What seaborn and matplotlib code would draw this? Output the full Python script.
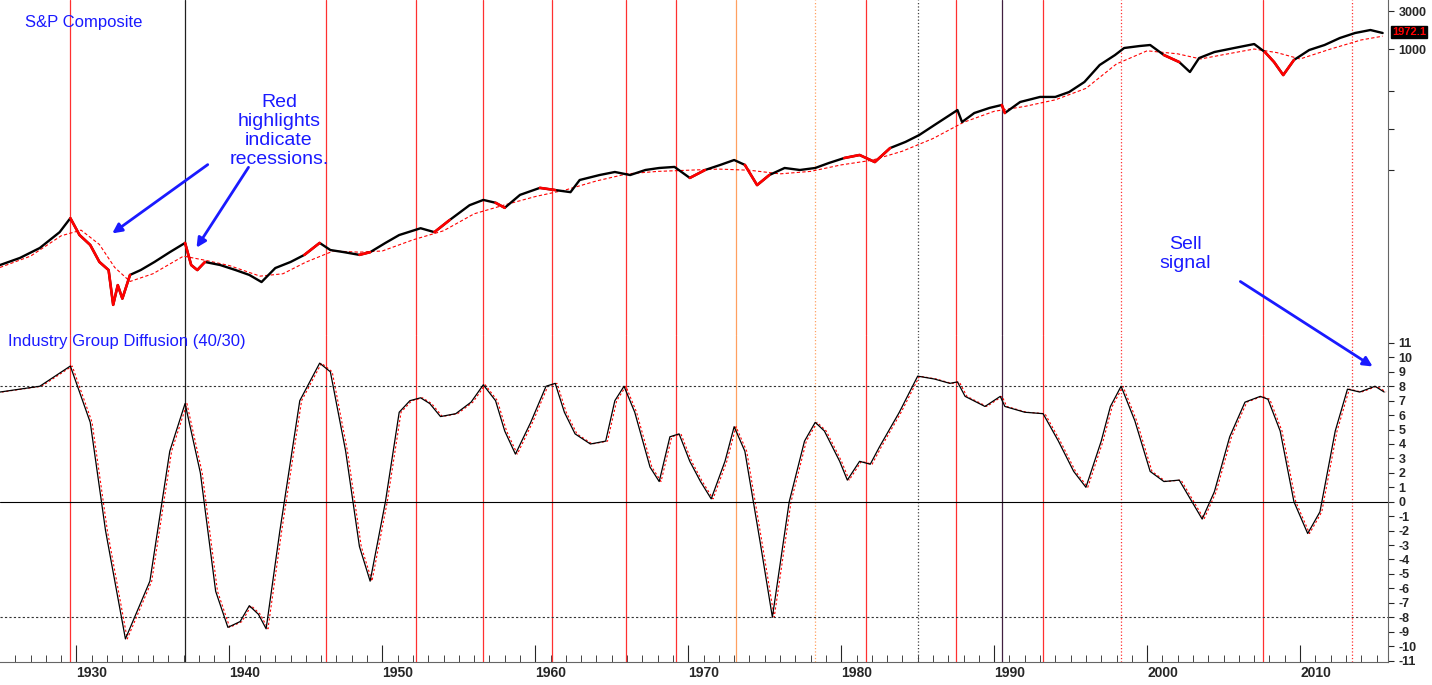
import matplotlib
matplotlib.use("Agg")
import matplotlib.pyplot as plt
import numpy as np
import seaborn as sns

sns.set_style("white")
plt.rcParams["font.family"] = ["Liberation Sans", "DejaVu Sans"]

# S&P Composite (year, value)
spx_year = [1925.0, 1926.3, 1927.6, 1928.9, 1929.6, 1930.2, 1930.9, 1931.5, 1932.1, 1932.4,
            1932.7, 1933.0, 1933.5, 1934.2, 1935.1, 1936.1, 1937.1, 1937.5, 1937.9, 1938.4,
            1939.4, 1940.4, 1941.3, 1942.1, 1943.0, 1944.0, 1944.9, 1945.9, 1946.6, 1947.5,
            1948.5, 1949.2, 1950.2, 1951.1, 1952.5, 1953.4, 1954.4, 1955.7, 1956.6, 1957.4,
            1958.0, 1959.0, 1960.3, 1961.3, 1962.3, 1962.9, 1964.2, 1965.2, 1966.2, 1967.2,
            1968.1, 1969.1, 1970.1, 1971.1, 1972.1, 1973.0, 1973.7, 1974.5, 1975.3, 1976.3,
            1977.3, 1978.3, 1979.2, 1980.2, 1981.2, 1982.2, 1983.2, 1984.2, 1985.1, 1986.1,
            1987.1, 1987.6, 1987.9, 1988.7, 1989.7, 1990.5, 1990.7, 1991.7, 1993.0, 1994.0,
            1994.9, 1995.9, 1996.9, 1997.9, 1998.5, 1999.5, 2000.2, 2001.1, 2002.1, 2002.8,
            2003.4, 2004.4, 2005.7, 2007.0, 2007.7, 2008.3, 2008.9, 2009.6, 2010.6, 2011.6,
            2012.6, 2013.6, 2014.6, 2015.4]
spx_value = [1.93, 2.37, 3.16, 5.0, 7.5, 4.6, 3.45, 2.11, 1.67, 0.61,
             1.08, 0.73, 1.45, 1.67, 2.11, 2.8, 3.66, 1.93, 1.67, 2.11,
             1.93, 1.67, 1.45, 1.18, 1.77, 2.11, 2.59, 3.66, 2.98, 2.8,
             2.59, 2.8, 3.66, 4.6, 5.6, 5.0, 7.1, 10.9, 12.7, 11.7,
             10.1, 14.7, 18.0, 16.9, 15.9, 22.6, 26.1, 28.5, 26.1, 30.2,
             32.0, 33.0, 24.0, 30.2, 35.0, 40.3, 35.0, 19.5, 26.1, 32.0,
             30.2, 32.0, 37.0, 42.7, 46.6, 38.0, 57.0, 68.0, 83.0, 111,
             148, 171, 121, 157, 182, 198, 157, 216, 250, 250,
             288, 385, 630, 840, 1030, 1090, 1123, 840, 686, 514,
             770, 917, 1030, 1155, 917, 686, 471, 728, 972, 1123,
             1375, 1590, 1733, 1590]

ma_year = [1925, 1927, 1929, 1930.3, 1931.5, 1932.5, 1933.5, 1935, 1937, 1938.5, 1940, 1942,
           1943.5, 1945, 1946.8, 1948.5, 1950, 1952, 1954, 1956, 1958, 1960, 1962, 1964, 1966,
           1968, 1970, 1972, 1974, 1976, 1978, 1980, 1982, 1984, 1986, 1988, 1990, 1992, 1994,
           1996, 1998, 2000, 2002, 2003.5, 2005, 2007, 2008.5, 2010, 2012, 2014, 2015.4]
ma_value = [1.8, 2.5, 4.5, 5.3, 3.5, 1.8, 1.2, 1.5, 2.5, 2.2, 1.9, 1.4,
            1.5, 2.1, 2.9, 2.8, 2.9, 4.0, 5.2, 8.5, 11, 14, 17, 22, 27,
            29, 30, 31, 30, 27, 29, 35, 40, 52, 75, 120, 165, 190, 230,
            320, 650, 950, 870, 750, 850, 1000, 900, 750, 1000, 1300, 1450]

recessions = [(1929.6, 1933.2), (1937.3, 1938.5), (1945.0, 1945.8), (1948.8, 1949.8),
              (1953.5, 1954.4), (1957.6, 1958.3), (1960.3, 1961.1), (1969.9, 1970.9),
              (1973.9, 1975.2), (1980.0, 1980.5), (1981.5, 1982.9), (1990.5, 1991.2),
              (2001.2, 2001.9), (2007.9, 2009.5)]

# Industry group diffusion (40/30)
diff_year = [1925.0, 1927.6, 1929.6, 1930.9, 1931.9, 1933.2, 1934.8, 1936.1, 1937.1, 1938.1,
             1939.1, 1939.9, 1940.7, 1941.3, 1941.9, 1942.4, 1943.3, 1944.6, 1945.9, 1946.6,
             1947.6, 1948.5, 1949.2, 1950.2, 1951.1, 1951.8, 1952.5, 1953.1, 1953.8, 1954.8,
             1955.8, 1956.6, 1957.4, 1958.0, 1958.7, 1959.7, 1960.7, 1961.3, 1961.9, 1962.6,
             1963.6, 1964.6, 1965.2, 1965.8, 1966.5, 1967.5, 1968.1, 1968.8, 1969.4, 1970.1,
             1970.8, 1971.5, 1972.4, 1973.0, 1973.7, 1974.7, 1975.5, 1976.6, 1977.6, 1978.3,
             1978.9, 1979.9, 1980.4, 1981.2, 1981.9, 1982.5, 1983.8, 1985.0, 1986.1, 1987.1,
             1987.6, 1988.1, 1989.4, 1990.4, 1990.7, 1992.0, 1993.2, 1994.2, 1995.2, 1996.0,
             1997.0, 1997.6, 1998.3, 1999.2, 2000.2, 2001.1, 2002.1, 2003.1, 2003.6, 2004.4,
             2005.4, 2006.4, 2007.4, 2007.9, 2008.7, 2009.6, 2010.5, 2011.3, 2012.3, 2013.1,
             2013.9, 2014.9, 2015.5]
diff_value = [7.6, 8.0, 9.4, 5.5, -2.0, -9.5, -5.5, 3.5, 6.8, 2.0,
              -6.2, -8.7, -8.3, -7.2, -7.8, -8.8, -2.0, 7.0, 9.6, 9.0,
              3.5, -3.1, -5.5, 0.0, 6.2, 7.0, 7.2, 6.8, 5.9, 6.1,
              6.9, 8.1, 7.0, 4.9, 3.3, 5.5, 8.0, 8.2, 6.2, 4.7,
              4.0, 4.2, 7.0, 8.0, 6.2, 2.4, 1.4, 4.5, 4.7, 2.8,
              1.4, 0.2, 2.8, 5.2, 3.5, -2.8, -8.0, 0.0, 4.2, 5.5,
              4.9, 2.8, 1.5, 2.8, 2.6, 3.8, 6.2, 8.7, 8.5, 8.2,
              8.3, 7.3, 6.6, 7.3, 6.6, 6.2, 6.1, 4.2, 2.1, 1.0,
              4.2, 6.6, 8.0, 5.6, 2.1, 1.4, 1.5, -0.3, -1.2, 0.7,
              4.5, 6.9, 7.3, 7.1, 4.9, 0.0, -2.2, -0.7, 4.9, 7.8,
              7.6, 8.0, 7.6]

vlines = [(1929.6, "#ff3030", "-"), (1937.1, "#202020", "-"), (1946.3, "#ff3030", "-"),
          (1952.2, "#ff3030", "-"), (1956.6, "#ff3030", "-"), (1961.1, "#ff3030", "-"),
          (1965.9, "#ff3030", "-"), (1969.2, "#ff3030", "-"), (1973.1, "#ffa060", "-"),
          (1978.3, "#ffa060", ":"), (1981.6, "#ff3030", "-"), (1985.0, "#404040", ":"),
          (1987.5, "#ff3030", "-"), (1990.5, "#402040", "-"), (1993.2, "#ff3030", "-"),
          (1998.3, "#ff3030", ":"), (2007.6, "#ff3030", "-"), (2013.4, "#ff3030", ":")]

W, H = 1432, 685
fig = plt.figure(figsize=(W / 100, H / 100), dpi=100)
ax1 = fig.add_axes([0, (H - 335) / H, 1388 / W, 335 / H])
ax2 = fig.add_axes([0, 23 / H, 1388 / W, 327 / H], sharex=ax1)

x0, x1 = 1925.0, 2015.75
for ax in (ax1, ax2):
    for x, c, ls in vlines:
        ax.axvline(x, color=c, ls=ls, lw=0.9, zorder=1)
    ax.yaxis.tick_right()
    ax.tick_params(axis="y", which="both", direction="out", length=4, width=0.8,
                   labelsize=9, right=True)
    for s in ax.spines.values():
        s.set_visible(False)
    ax.spines["right"].set_visible(True)
    ax.spines["right"].set_color("#666666")

# top panel
yr = np.array(spx_year)
val = np.array(spx_value)
sns.lineplot(x=yr, y=val, ax=ax1, color="black", lw=1.7, zorder=3)
in_rec = np.zeros(len(yr), dtype=bool)
for a, b in recessions:
    in_rec |= (yr >= a - 0.3) & (yr <= b + 0.3)
ax1.plot(yr, np.where(in_rec, val, np.nan), color="red", lw=1.9, zorder=4)
sns.lineplot(x=ma_year, y=ma_value, ax=ax1, color="red", lw=0.8, ls=(0, (3, 2)), zorder=2)
ax1.set_yscale("log")
ax1.set_ylim(0.255, 4130)
ax1.set_yticks([1000, 3000])
ax1.set_yticklabels(["1000", "3000"], fontweight="bold")
ax1.set_yticks([300, 100, 30], minor=True)
ax1.yaxis.set_minor_formatter(plt.NullFormatter())
ax1.text(1.003, 1 - 32 / 335, "1972.1", transform=ax1.transAxes, color="red", fontsize=8,
         fontweight="bold", va="center", bbox=dict(facecolor="black", edgecolor="black", pad=1))
ax1.tick_params(axis="x", bottom=False, labelbottom=False)

# bottom panel
sns.lineplot(x=np.array(diff_year) + 0.12, y=diff_value, ax=ax2, color="red", lw=0.8,
             ls=(0, (2, 2)), zorder=2)
sns.lineplot(x=diff_year, y=diff_value, ax=ax2, color="black", lw=0.9, zorder=3)
ax2.axhline(0, color="black", lw=0.8)
ax2.axhline(8, color="#333333", lw=0.8, ls=(0, (2, 2)))
ax2.axhline(-8, color="#333333", lw=0.8, ls=(0, (2, 2)))
ax2.set_ylim(-11.1, 11.55)
ax2.set_yticks(range(-11, 12))
ax2.set_yticklabels([str(v) for v in range(-11, 12)], fontweight="bold")
ax2.set_xlim(x0, x1)
ax2.spines["bottom"].set_visible(True)
ax2.spines["bottom"].set_color("#666666")
ax2.set_xticks(range(1930, 2016, 10))
ax2.set_xticks(range(1926, 2016), minor=True)
ax2.set_xticklabels([str(v) for v in range(1930, 2016, 10)], fontweight="bold", ha="left",
                    fontsize=10)
ax2.tick_params(axis="x", which="major", direction="in", length=12, bottom=True, pad=3)
ax2.tick_params(axis="x", which="minor", direction="in", length=5, bottom=True)
ax2.set_xlabel("")
ax1.set_xlabel("")

# annotations (figure pixels, origin bottom-left)
blue = "#1a1aff"
fig.text(25 / W, 1 - 22 / H, "S&P Composite", color=blue, fontsize=12, va="center")
fig.text(8 / W, 1 - 342 / H, "Industry Group Diffusion (40/30)", color=blue, fontsize=12,
         va="center")
fig.text(279 / W, 1 - 131 / H, "Red\nhighlights\nindicate\nrecessions.", color=blue,
         fontsize=14, ha="center", va="center", linespacing=1.15)
fig.text(1185 / W, 1 - 254 / H, "Sell\nsignal", color=blue, fontsize=14, ha="center",
         va="center", linespacing=1.2)
arrow = dict(arrowstyle="-|>", color=blue, lw=2, mutation_scale=14)
for (xs, ys), (xe, ye) in [((210, 163), (110, 235)), ((250, 165), (195, 250)),
                           ((1238, 280), (1375, 368))]:
    fig.add_artist(matplotlib.patches.FancyArrowPatch(
        (xs / W, 1 - ys / H), (xe / W, 1 - ye / H), transform=fig.transFigure, **arrow))

fig.savefig("out.png", dpi=100)
